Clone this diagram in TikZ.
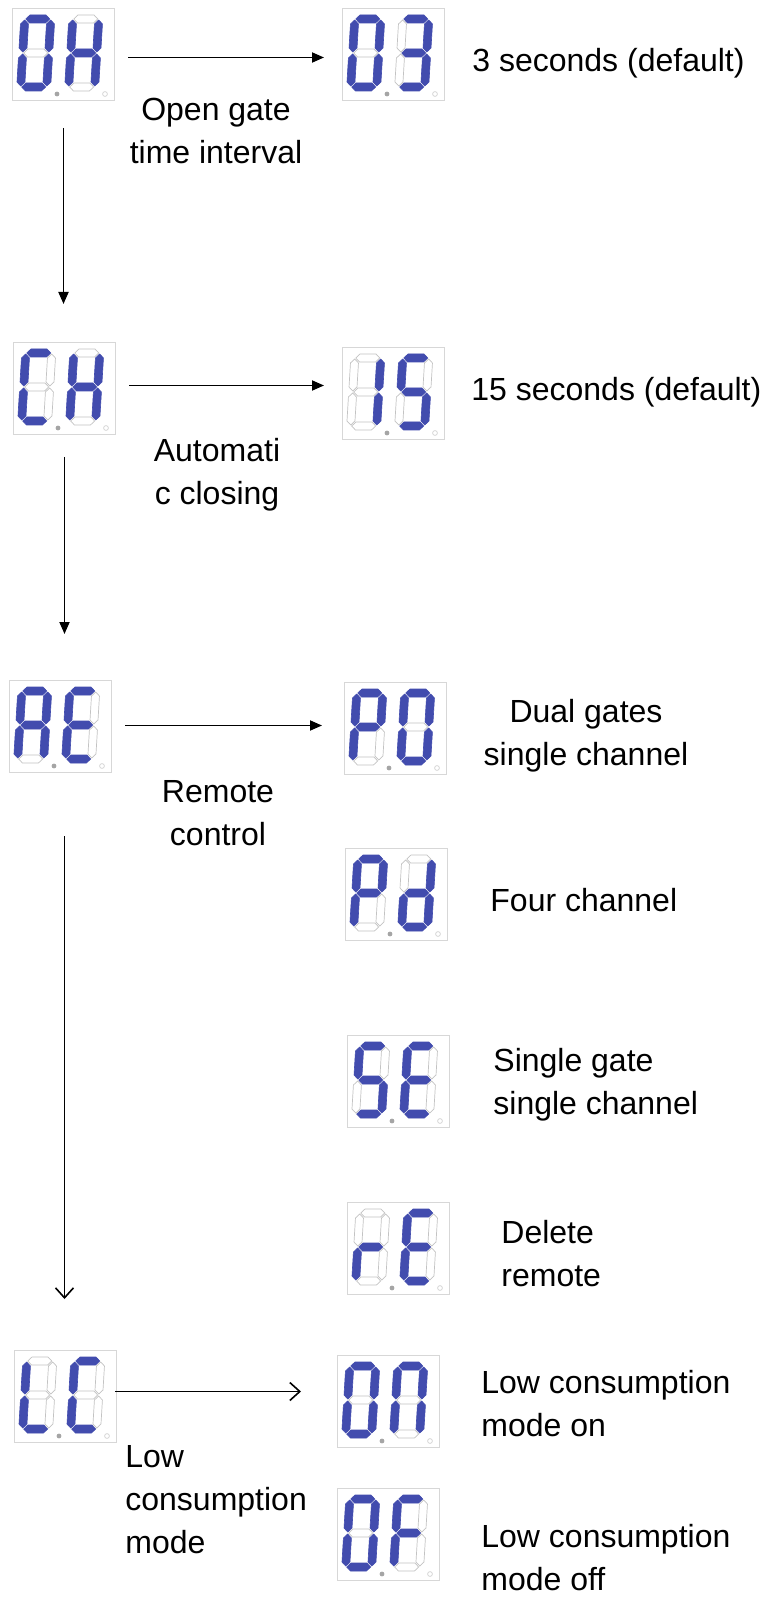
\documentclass[tikz,border=0pt]{standalone}
\usepackage{fontspec}
\setmainfont{Liberation Sans}
\usetikzlibrary{arrows.meta}
\definecolor{segblue}{RGB}{66,76,174}
\definecolor{segoff}{RGB}{195,195,195}
\definecolor{boxline}{RGB}{215,215,215}
\definecolor{dpgray}{RGB}{165,165,165}
\tikzset{
  litseg/.style={fill=segblue, draw=segblue, line width=0.3pt},
  offseg/.style={draw=segoff, line width=0.35pt},
  dispbox/.style={draw=boxline, line width=0.5pt, minimum width=51pt, minimum height=46pt, inner sep=0pt, anchor=north west},
  arr/.style={-{Triangle[length=6pt,width=5pt]}, line width=0.9pt},
  oarr/.style={-{Straight Barb[length=5pt,width=9pt]}, line width=0.8pt},
  lbl/.style={font=\fontsize{16}{21.5}\selectfont, inner sep=0pt}
}
\makeatletter
\newcommand\sgH[5]{% letter, lit list, yc, x1, x2
  \in@{#1}{#2}%
  \ifin@\tikzset{cursg/.style=litseg}\else\tikzset{cursg/.style=offseg}\fi
  \path[cursg] (#4,#3) -- (#4+4,#3-4) -- (#5-4,#3-4) -- (#5,#3) -- (#5-4,#3+4) -- (#4+4,#3+4) -- cycle;}
\newcommand\sgV[5]{% letter, lit list, xc, y1, y2
  \in@{#1}{#2}%
  \ifin@\tikzset{cursg/.style=litseg}\else\tikzset{cursg/.style=offseg}\fi
  \path[cursg] (#3,#4) -- (#3+4,#4+4) -- (#3+4,#5-4) -- (#3,#5) -- (#3-4,#5-4) -- (#3-4,#4+4) -- cycle;}
\makeatother
\newcommand\sevdigit[3]{%
  \begin{scope}[shift={(#1,#2)}, xslant=0.06]
    \sgH{a}{#3}{4}{5}{29}
    \sgH{g}{#3}{38}{5}{29}
    \sgH{d}{#3}{72}{5}{29}
    \sgV{f}{#3}{4}{5}{37}
    \sgV{b}{#3}{30}{5}{37}
    \sgV{e}{#3}{4}{39}{71}
    \sgV{c}{#3}{30}{39}{71}
  \end{scope}}
\newcommand\disp[5]{% name, x, y, left segs, right segs
  \node[dispbox] (#1) at (#2,#3) {};
  \sevdigit{#2+9}{#3+7}{#4}
  \sevdigit{#2+57}{#3+7}{#5}
  \fill[dpgray] (#2+45,#3+86) circle (1.2pt);
  \draw[boxline, line width=0.4pt] (#2+93,#3+86) circle (1.2pt);}
\begin{document}
\begin{tikzpicture}[x=0.5pt, y=-0.5pt]
\useasboundingbox (0,0) rectangle (766,1598);
\fill[white] (0,0) rectangle (766,1598);
% displays
\disp{d0H}{12}{8}{abcdef}{bcefg}
\disp{d03}{342}{8}{abcdef}{abcdg}
\disp{dCH}{13}{342}{adef}{bcefg}
\disp{d15}{342}{347}{bc}{acdfg}
\disp{dAE}{9}{680}{abcefg}{adefg}
\disp{dP0}{344}{682}{abefg}{abcdef}
\disp{dPd}{345}{848}{abefg}{bcdeg}
\disp{dSE}{347}{1035}{acdfg}{adefg}
\disp{drE}{347}{1202}{eg}{adefg}
\disp{dLC}{14}{1350}{def}{adef}
\disp{dOn}{337}{1355}{abcdef}{abcef}
\disp{dOF}{337}{1488}{abcdef}{aefg}
% connector end points
\coordinate (s1) at ([shift={(13,3)}]d0H.east);
\coordinate (e1) at ([shift={(-18,0)}]d03.west);
\coordinate (s2) at ([shift={(0,27)}]d0H.south);
\coordinate (e2) at ([shift={(0,-38)}]dCH.north);
\coordinate (s3) at ([shift={(13,-3)}]dCH.east);
\coordinate (e3) at ([shift={(-18,0)}]d15.west);
\coordinate (s4) at ([shift={(0,22)}]dCH.south);
\coordinate (e4) at ([shift={(0,-46)}]dAE.north);
\coordinate (s5) at ([shift={(13,-1)}]dAE.east);
\coordinate (e5) at ([shift={(-22,0)}]dP0.west);
\coordinate (s6) at ([shift={(4,63)}]dAE.south);
\coordinate (e6) at ([shift={(0,-51)}]dLC.north);
\coordinate (s7) at ([shift={(-2,-5)}]dLC.east);
\coordinate (e7) at ([shift={(-36,0)}]dOn.west);
% connectors
\draw[arr] (s1) -- (e1 |- s1);
\draw[arr] (s2) -- (s2 |- e2);
\draw[arr] (s3) -- (e3 |- s3);
\draw[arr] (s4) -- (s4 |- e4);
\draw[arr] (s5) -- (e5 |- s5);
\draw[oarr] (s6) -- (s6 |- e6);
\draw[oarr] (s7) -- (e7 |- s7);
% labels
\node[lbl, anchor=base west] (t1) at (472,72) {3 seconds (default)};
\node[lbl, align=center, anchor=north] (t2) at (216,98) {Open gate\\time interval};
\node[lbl, anchor=base west] (t3) at (471,401) {15 seconds (default)};
\node[lbl, align=center, anchor=north] (t4) at (217,438) {Automati\\c closing};
\node[lbl, align=center, anchor=north] (t5) at (586,699) {Dual gates\\single channel};
\node[lbl, align=center, anchor=north] (t6) at (218,780) {Remote\\control};
\node[lbl, anchor=base west] (t7) at (490,911) {Four channel};
\node[lbl, align=left, anchor=north west] (t8) at (493,1048) {Single gate\\single channel};
\node[lbl, align=left, anchor=north west] (t9) at (501,1220) {Delete\\remote};
\node[lbl, align=left, anchor=north west] (t10) at (481,1370) {Low consumption\\mode on};
\node[lbl, align=left, anchor=north west] (t11) at (125,1445) {Low\\consumption\\mode};
\node[lbl, align=left, anchor=north west] (t12) at (481,1524) {Low consumption\\mode off};
\end{tikzpicture}
\end{document}
